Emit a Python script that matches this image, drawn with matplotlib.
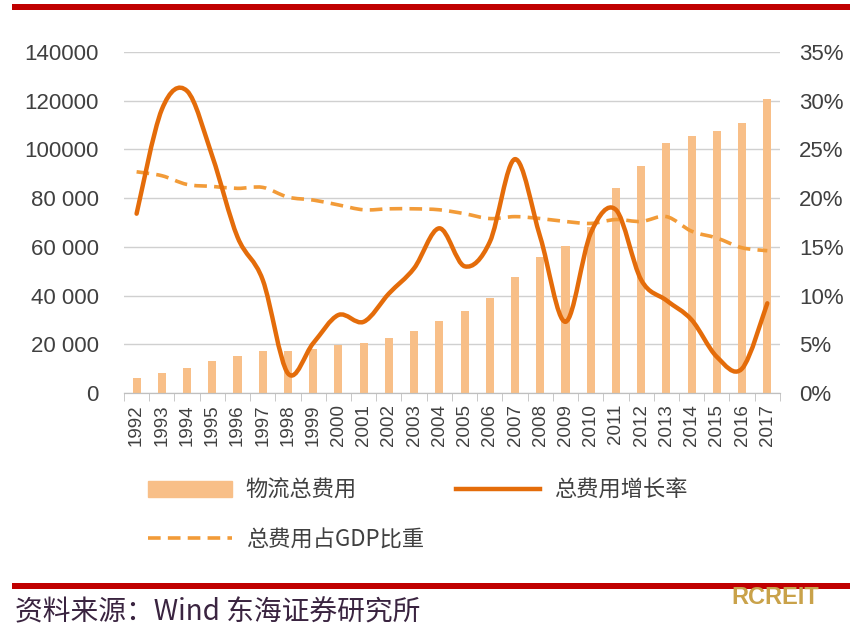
import matplotlib
matplotlib.use("Agg")
import matplotlib.pyplot as plt
import numpy as np
from matplotlib.path import Path
from matplotlib.patches import PathPatch, Patch, Rectangle
from matplotlib.lines import Line2D

# ── データ ──────────────────────────────────────────────────────
years = [str(y) for y in range(1992, 2018)]
total_cost = [6000, 8100, 10150, 13300, 15200, 17250, 17250, 17950, 19700, 20400,
              22450, 25600, 29700, 33800, 38900, 47800, 56000, 60500, 68300, 84100,
              93200, 102500, 105500, 107700, 110800, 120600]
growth_rate = [18.4, 29.1, 31.0, 24.3, 16.0, 11.6, 2.0, 5.1, 8.0, 7.3,
               10.2, 12.8, 16.9, 13.0, 15.5, 24.0, 16.0, 7.3, 16.4, 18.8,
               11.6, 9.5, 7.5, 3.7, 2.5, 9.2]
gdp_share = [22.7, 22.3, 21.4, 21.2, 21.0, 21.1, 20.1, 19.8, 19.3, 18.8,
             18.9, 18.9, 18.8, 18.4, 17.9, 18.1, 17.9, 17.6, 17.4, 17.8,
             17.6, 18.1, 16.6, 15.9, 14.9, 14.6]
left_ticks = [0, 20000, 40000, 60000, 80000, 100000, 120000, 140000]
left_labels = ["0", "20 000", "40 000", "60 000", "80 000", "100000", "120000", "140000"]
right_ticks = [0, 5, 10, 15, 20, 25, 30, 35]
right_labels = [f"{v}%" for v in right_ticks]

BAR_C   = "#F8BF88"
LINE_C  = "#E46C0A"
DASH_C  = "#F29B38"
TEXT_C  = "#404040"
RED_C   = "#C00000"
CJK     = ["Noto Sans CJK SC", "DejaVu Sans"]


def smooth_path(x, y):
    """Excel 風の平滑線 (Catmull-Rom → cubic Bezier)"""
    x = np.asarray(x, float)
    y = np.asarray(y, float)
    verts = [(x[0], y[0])]
    codes = [Path.MOVETO]
    n = len(x)
    for i in range(n - 1):
        p0 = (x[max(i - 1, 0)], y[max(i - 1, 0)])
        p1 = (x[i], y[i])
        p2 = (x[i + 1], y[i + 1])
        p3 = (x[min(i + 2, n - 1)], y[min(i + 2, n - 1)])
        c1 = (p1[0] + (p2[0] - p0[0]) / 6, p1[1] + (p2[1] - p0[1]) / 6)
        c2 = (p2[0] - (p3[0] - p1[0]) / 6, p2[1] - (p3[1] - p1[1]) / 6)
        verts += [c1, c2, p2]
        codes += [Path.CURVE4] * 3
    return Path(verts, codes)


fig = plt.figure(figsize=(8.58, 6.42), dpi=100)
ax = fig.add_axes([0.1445, 0.388, 0.7645, 0.531])
ax2 = ax.twinx()

xs = np.arange(len(years))
ax.bar(xs, total_cost, width=0.32, color=BAR_C, zorder=2)
ax.set_ylim(0, 140000)
ax.set_xlim(-0.5, len(years) - 0.5)
ax.set_yticks(left_ticks)
ax.set_yticklabels(left_labels, family="Liberation Sans", fontsize=16, color=TEXT_C)
ax.yaxis.grid(True, color="#D0D0D0", lw=1.0, zorder=0)
ax.set_axisbelow(True)
ax.set_xticks(xs)
ax.set_xticklabels(years, rotation=90, family="Liberation Sans", fontsize=13.5, color=TEXT_C)
ax.set_xticks(np.arange(-0.5, len(years)), minor=True)
ax.tick_params(axis="x", which="major", length=0, pad=8)
ax.tick_params(axis="x", which="minor", length=6, color="#BFBFBF")
ax.tick_params(axis="y", length=0, pad=18)

ax2.set_ylim(0, 35)
ax2.set_yticks(right_ticks)
ax2.set_yticklabels(right_labels, family="Liberation Sans", fontsize=16, color=TEXT_C)
ax2.tick_params(axis="y", length=0, pad=14)

ax2.add_patch(PathPatch(smooth_path(xs, growth_rate), fill=False, ec=LINE_C, lw=3.2,
                        capstyle="round", joinstyle="round", zorder=4))
ax2.add_patch(PathPatch(smooth_path(xs, gdp_share), fill=False, ec=DASH_C, lw=2.6,
                        linestyle=(0, (3.5, 2)), zorder=3))

for a in (ax, ax2):
    for side in ("left", "right", "top"):
        a.spines[side].set_visible(False)
    a.spines["bottom"].set_color("#BFBFBF")

handles = [Patch(color=BAR_C),
           Line2D([], [], color=DASH_C, lw=2.6, linestyle=(0, (3.5, 2))),
           Line2D([], [], color=LINE_C, lw=3.2)]
labels = ["物流总费用", "总费用占GDP比重", "总费用增长率"]
fig.legend(handles, labels, ncol=2, loc="upper left", bbox_to_anchor=(0.149, 0.285),
           frameon=False, prop={"family": CJK, "size": 16}, labelcolor=TEXT_C,
           handlelength=3.8, handletextpad=0.6, columnspacing=1.45, labelspacing=1.18,
           handleheight=0.7)

# 赤の罫線
fig.add_artist(Rectangle((12 / 858, 1 - 10 / 642), 838 / 858, 6 / 642,
                         transform=fig.transFigure, color=RED_C, lw=0))
fig.add_artist(Rectangle((12 / 858, 1 - 589 / 642), 838 / 858, 6 / 642,
                         transform=fig.transFigure, color=RED_C, lw=0))

fig.text(15 / 858, 1 - 612 / 642, "资料来源：Wind 东海证券研究所", family=CJK,
         fontsize=20, color="#3A2440", va="center", ha="left")
fig.text(775 / 858, 1 - 597 / 642, "RCREIT", family="Liberation Sans", fontsize=17,
         fontweight="bold", color="#C9A24A", va="center", ha="center")

fig.savefig("out.png", dpi=100)
